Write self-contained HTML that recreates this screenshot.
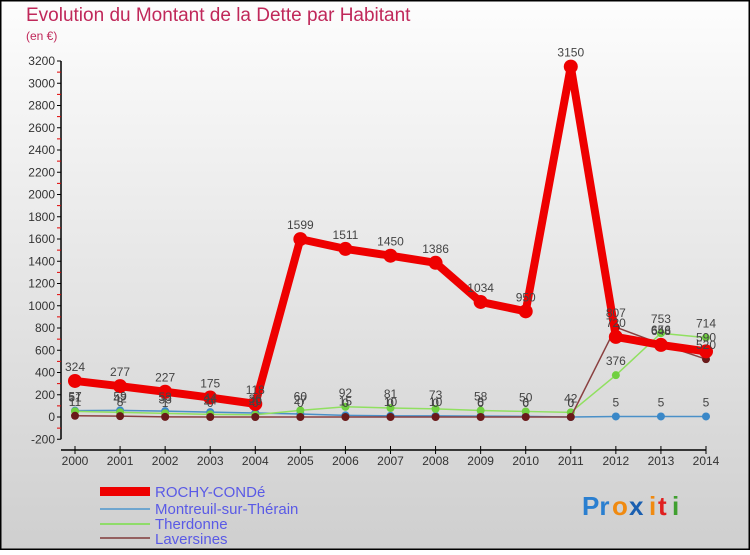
<!DOCTYPE html>
<html><head><meta charset="utf-8"><style>
html,body{margin:0;padding:0}
body{width:750px;height:550px;overflow:hidden;font-family:"Liberation Sans",sans-serif}
</style></head><body>
<svg id="chart" width="750" height="550" xmlns="http://www.w3.org/2000/svg">
<defs><linearGradient id="bg" x1="0" y1="0" x2="0" y2="1"><stop offset="0" stop-color="#fdfdfd"/><stop offset="1" stop-color="#cfcfcf"/></linearGradient></defs>
<rect x="0.5" y="0.5" width="749" height="549" fill="url(#bg)" stroke="#000" stroke-width="2"/>
<text x="26" y="21" font-size="19" fill="#c0285a">Evolution du Montant de la Dette par Habitant</text>
<text x="26" y="40" font-size="12" fill="#c0285a">(en €)</text>
<g id="axes"></g><g id="series"></g><g id="labels"></g>
<g>
<rect x="100" y="487" width="50" height="9" fill="#ee0000"/>
<text x="155" y="497" font-size="15" fill="#5a5ae6">ROCHY-CONDé</text>
<line x1="100" y1="509" x2="150" y2="509" stroke="#6fa6cf" stroke-width="2"/>
<text x="155" y="514" font-size="15" fill="#5a5ae6">Montreuil-sur-Thérain</text>
<line x1="100" y1="524" x2="150" y2="524" stroke="#8fdc6a" stroke-width="2"/>
<text x="155" y="529" font-size="15" fill="#5a5ae6">Therdonne</text>
<line x1="100" y1="538" x2="150" y2="538" stroke="#946060" stroke-width="2"/>
<text x="155" y="544" font-size="15" fill="#5a5ae6">Laversines</text>
</g>
<g font-size="26" font-weight="bold">
<text x="582" y="515" fill="#2a7fd0">Pr</text><text x="612" y="515" fill="#f08a10">o</text><text x="629" y="515" fill="#1a5fb0">x</text><text x="649" y="515" fill="#f08a10">i</text><text x="658" y="515" fill="#e02020">t</text><text x="672" y="515" fill="#40a030">i</text>
</g>
</svg>
<script>
const years=[2000,2001,2002,2003,2004,2005,2006,2007,2008,2009,2010,2011,2012,2013,2014];
const rochy=[324,277,227,175,118,1599,1511,1450,1386,1034,950,3150,720,648,590];
const montreuil=[57,59,53,44,36,27,15,10,10,8,6,0,5,5,5];
const therdonne=[51,42,33,24,20,60,92,81,73,58,50,42,376,753,714];
const laversines=[11,8,1,0,0,0,0,0,0,0,0,0,807,656,520];
const yTicks=[-200,0,200,400,600,800,1000,1200,1400,1600,1800,2000,2200,2400,2600,2800,3000,3200];
const NS="http://www.w3.org/2000/svg";
const xs=i=>75+i*(706-75)/(years.length-1);
const ys=v=>417-v*(356/3200);
function mk(tag,attrs,parent,txt){const e=document.createElementNS(NS,tag);for(const k in attrs)e.setAttribute(k,attrs[k]);if(txt!==undefined)e.textContent=txt;parent.appendChild(e);return e;}
const ax=document.getElementById('axes'),sg=document.getElementById('series'),lg=document.getElementById('labels');
const ya=mk('line',{x1:61,y1:ys(3200),x2:61,y2:ys(-200),stroke:'#000','stroke-width':1.5},ax);


yTicks.forEach(t=>{
 mk('line',{x1:57,x2:61,y1:ys(t),y2:ys(t),stroke:'#000'},ax);
 if(t<3200)mk('line',{x1:57,x2:61,y1:ys(t+100),y2:ys(t+100),stroke:'#e00000'},ax);
 const l=mk('text',{x:55,y:ys(t)+4,'font-size':12,fill:'#333','text-anchor':'end'},ax,String(t));
 
 
});
const xa=mk('line',{x1:61,y1:450,x2:706,y2:450,stroke:'#000','stroke-width':1.5},ax);


years.forEach((y,i)=>{
 mk('line',{x1:xs(i),x2:xs(i),y1:446,y2:454,stroke:'#000'},ax);
 const l=mk('text',{x:xs(i),y:465,'font-size':12,fill:'#333','text-anchor':'middle'},ax,String(y));
 
 
});
function series(vals,color,w,r,dot,name){
 const p=mk('polyline',{points:vals.map((v,i)=>xs(i)+','+ys(v)).join(' '),fill:'none',stroke:color,'stroke-width':w,'stroke-linejoin':'round'},sg);
 
 
 vals.forEach((v,i)=>{
  const c=mk('circle',{cx:xs(i),cy:ys(v),r:r,fill:dot},sg);
  
  
  const t=mk('text',{x:xs(i),y:ys(v)-10,'font-size':12,fill:'#444','text-anchor':'middle'},lg,String(v));
  
  
 });
}
series(montreuil,'#4a90c8',1.5,4,'#3a88c8','montreuil');
series(therdonne,'#90e060',1.5,4,'#70d040','therdonne');
series(laversines,'#8a4040',1.5,4,'#6a1a1a','laversines');
series(rochy,'#ee0000',8,7,'#ee0000','rochy');
</script>
</body></html>
